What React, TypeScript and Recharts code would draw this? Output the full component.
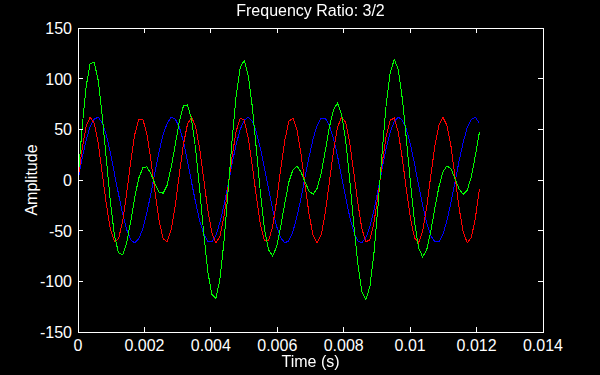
import { LineChart, Line, XAxis, YAxis } from "recharts";

// samples per second of the recorded tones
const SAMPLE_RATE = 8192;

const tone440 = [
  0, 21, 39, 53, 60, 62, 56, 44, 27, 6, -14, -33, -49, -59, -62, -58, -48, -32, -13, 8,
  28, 45, 56, 62, 60, 52, 38, 19, -2, -22, -40, -53, -61, -61, -55, -42, -25, -5, 16, 35,
  50, 59, 62, 58, 47, 31, 11, -9, -29, -46, -57, -62, -60, -51, -36, -18, 3, 23, 41, 54,
  61, 61, 54, 41, 24, 3, -17, -36, -51, -60, -62, -57, -46, -30, -10, 11, 31, 47, 58, 62,
  59, 50, 35, 16, -5, -25, -42, -55, -61, -61, -54, -40, -22, -2, 19, 37, 52, 60, 62, 56,
];

const tone660 = [
  0, 30, 53, 62, 56, 36, 6, -24, -49, -61, -58, -41, -13, 18, 45, 60, 60, 45, 19, -12,
  -40, -58, -61, -49, -25, 6, 35, 55, 62, 53, 31, 1, -29, -52, -62, -56, -36, -7, 23, 48,
  61, 59, 41, 14, -17, -44, -60, -60, -46, -20, 11, 39, 58, 61, 50, 26, -5, -34, -55, -62,
  -54, -32, -2, 28, 52, 62, 57, 37, 8, -22, -48, -61, -59, -42, -15, 16, 43, 59, 61, 47,
  21, -10, -38, -57, -62, -51, -27, 4, 33, 54, 62, 54, 33, 3, -28, -51, -62, -57, -38, -9,
];

const mixed = [
  0, 51, 92, 115, 116, 98, 62, 20, -22, -55, -72, -74, -62, -41, -17, 2, 12, 13, 6, -4,
  -12, -13, -5, 13, 35, 58, 73, 74, 60, 31, -9, -52, -90, -113, -117, -98, -61, -12, 39, 83,
  111, 118, 103, 72, 30, -13, -49, -69, -75, -66, -46, -23, -2, 10, 14, 8, -2, -11, -14, -8,
  7, 29, 52, 69, 76, 65, 40, 1, -43, -82, -110, -118, -105, -72, -25, 27, 74, 106, 119, 109,
  80, 40, -3, -41, -67, -76, -69, -51, -28, -7, 8, 14, 11, 1, -9, -14, -10, 3, 24, 47,
];

const xTicks = [0, 0.002, 0.004, 0.006, 0.008, 0.01, 0.012, 0.014];
const yTicks = [-150, -100, -50, 0, 50, 100, 150];

const data = tone440.map((v, i) => ({
  t: i / SAMPLE_RATE,
  a: v,
  b: tone660[i],
  sum: mixed[i],
}));

const font = "'Liberation Sans', Arial, sans-serif";

// plot box edges (pixels), matches the chart margins below
const BOX = { left: 78, right: 543, top: 28, bottom: 332 };
const TICK_LEN = 5;

// MATLAB-style ticks: pointing inward, on both opposite edges
const XTick = (props: any) => {
  const { x, payload } = props;
  return (
    <g>
      <line x1={x} x2={x} y1={BOX.bottom} y2={BOX.bottom - TICK_LEN} stroke="#fff" shapeRendering="crispEdges" />
      <line x1={x} x2={x} y1={BOX.top} y2={BOX.top + TICK_LEN} stroke="#fff" shapeRendering="crispEdges" />
      <text x={x} y={BOX.bottom + 19} textAnchor="middle" fill="#fff" fontSize={16} fontFamily={font}>
        {String(payload.value)}
      </text>
    </g>
  );
};

const YTick = (props: any) => {
  const { y, payload } = props;
  return (
    <g>
      <line x1={BOX.left} x2={BOX.left + TICK_LEN} y1={y} y2={y} stroke="#fff" shapeRendering="crispEdges" />
      <line x1={BOX.right} x2={BOX.right - TICK_LEN} y1={y} y2={y} stroke="#fff" shapeRendering="crispEdges" />
      <text x={BOX.left - 6} y={y + 6} textAnchor="end" fill="#fff" fontSize={16} fontFamily={font}>
        {String(payload.value)}
      </text>
    </g>
  );
};

export default function App() {
  return (
    <div
      style={{
        position: "fixed",
        left: 0,
        top: 0,
        width: 600,
        height: 375,
        background: "#000",
        fontFamily: font,
        color: "#fff",
      }}
    >
      <LineChart
        width={600}
        height={375}
        data={data}
        margin={{ top: 28, right: 57, bottom: 13, left: 18 }}
      >
        <XAxis
          dataKey="t"
          type="number"
          domain={[0, 0.014]}
          ticks={xTicks}
          allowDataOverflow
          height={30}
          axisLine={false}
          tickLine={false}
          tick={<XTick />}
        />
        <YAxis
          type="number"
          domain={[-150, 150]}
          ticks={yTicks}
          allowDataOverflow
          width={60}
          axisLine={false}
          tickLine={false}
          tick={<YTick />}
        />
        <Line type="linear" dataKey="a" stroke="#0000ff" strokeWidth={1} dot={false} shapeRendering="crispEdges" isAnimationActive={false} />
        <Line type="linear" dataKey="b" stroke="#ff0000" strokeWidth={1} dot={false} shapeRendering="crispEdges" isAnimationActive={false} />
        <Line type="linear" dataKey="sum" stroke="#00ff00" strokeWidth={1} dot={false} shapeRendering="crispEdges" isAnimationActive={false} />
      </LineChart>
      {/* axes box */}
      <div
        style={{
          position: "absolute",
          left: BOX.left,
          top: BOX.top,
          width: BOX.right - BOX.left + 1,
          height: BOX.bottom - BOX.top + 1,
          border: "1px solid #fff",
          boxSizing: "border-box",
        }}
      />
      <div
        style={{
          position: "absolute",
          left: 0,
          width: 621,
          top: 2,
          textAlign: "center",
          fontSize: 16,
        }}
      >
        Frequency Ratio: 3/2
      </div>
      <div
        style={{
          position: "absolute",
          left: 0,
          width: 621,
          top: 353,
          textAlign: "center",
          fontSize: 16,
        }}
      >
        Time (s)
      </div>
      <div
        style={{
          position: "absolute",
          left: 32,
          top: 180,
          fontSize: 16,
          transform: "translate(-50%, -50%) rotate(-90deg)",
          whiteSpace: "nowrap",
        }}
      >
        Amplitude
      </div>
    </div>
  );
}
